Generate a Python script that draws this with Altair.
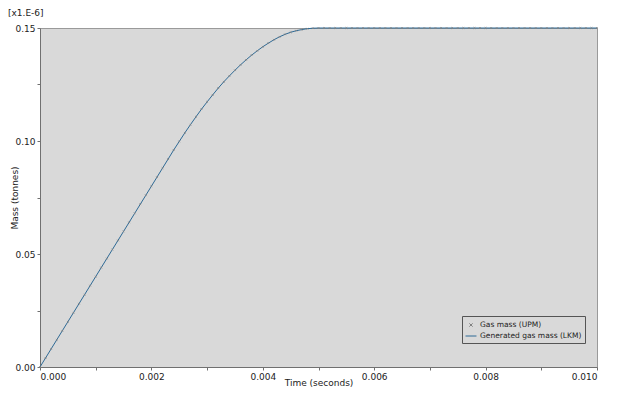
import altair as alt
import pandas as pd

time_s = [round(i * 0.0001, 4) for i in range(101)]
mass = [
    0.000, 0.004, 0.008, 0.012, 0.016, 0.020, 0.024, 0.028, 0.032, 0.036,
    0.040, 0.044, 0.048, 0.052, 0.056, 0.060, 0.064, 0.068, 0.072, 0.076,
    0.080, 0.084, 0.088, 0.092, 0.096, 0.0998, 0.1036, 0.1072, 0.1107, 0.1141,
    0.1173, 0.1204, 0.1234, 0.1262, 0.1288, 0.1313, 0.1337, 0.1359, 0.1380, 0.1399,
    0.1417, 0.1433, 0.1448, 0.1461, 0.1472, 0.1481, 0.1488, 0.1493, 0.1497, 0.1499,
    0.1500, 0.1500, 0.1500, 0.1500, 0.1500, 0.1500, 0.1500, 0.1500, 0.1500, 0.1500,
    0.1500, 0.1500, 0.1500, 0.1500, 0.1500, 0.1500, 0.1500, 0.1500, 0.1500, 0.1500,
    0.1500, 0.1500, 0.1500, 0.1500, 0.1500, 0.1500, 0.1500, 0.1500, 0.1500, 0.1500,
    0.1500, 0.1500, 0.1500, 0.1500, 0.1500, 0.1500, 0.1500, 0.1500, 0.1500, 0.1500,
    0.1500, 0.1500, 0.1500, 0.1500, 0.1500, 0.1500, 0.1500, 0.1500, 0.1500, 0.1500,
    0.1500,
]
series_names = ["Gas mass (UPM)", "Generated gas mass (LKM)"]
x_ticks = [round(i * 0.001, 3) for i in range(11)]
y_ticks = [round(i * 0.025, 3) for i in range(7)]
scale_note = ["[x1.E-6]"]

rows = []
for s in series_names:
    for t, m in zip(time_s, mass):
        rows.append({"t": t, "m": m, "series": s})
df = pd.DataFrame(rows)

FONT = "DejaVu Sans"
xpath = "M-0.3,-0.3L0.3,0.3M-0.3,0.3L0.3,-0.3"

color_scale = alt.Scale(domain=series_names, range=["#808080", "#2e6a96"])
shape_scale = alt.Scale(domain=series_names, range=[xpath, "stroke"])

legend = alt.Legend(
    title=None, orient="none", legendX=422, legendY=288,
    fillColor="#d9d9d9", strokeColor="#555555", padding=3,
    labelFont=FONT, labelFontSize=7.5, labelColor="#222222",
    symbolSize=120, symbolStrokeWidth=1, rowPadding=1, labelOffset=3,
)

x_enc = alt.X(
    "t:Q", title="Time (seconds)",
    scale=alt.Scale(domain=[0, 0.01], nice=False, zero=False),
    axis=alt.Axis(
        values=x_ticks,
        labelExpr="round(datum.value*1000) % 2 == 0 ? format(datum.value, '.3f') : ''",
        tickSize=3, grid=False, titleY=15, titleBaseline="middle",
    ),
)
y_enc = alt.Y(
    "m:Q", title="Mass (tonnes)",
    scale=alt.Scale(domain=[0, 0.15], nice=False),
    axis=alt.Axis(
        values=y_ticks,
        labelExpr="round(datum.value*1000) % 50 == 0 ? format(datum.value, '.2f') : ''",
        tickSize=3, grid=False, titleX=-26, titleBaseline="middle",
    ),
)

base = alt.Chart(df)

line = base.transform_filter(alt.datum.series == series_names[1]).mark_line(
    strokeWidth=1
).encode(
    x=x_enc, y=y_enc,
    color=alt.Color("series:N", scale=color_scale, legend=legend),
    shape=alt.Shape("series:N", scale=shape_scale, legend=legend),
)

points = base.transform_filter(alt.datum.series == series_names[0]).mark_point(
    filled=False, size=30, strokeWidth=0.8, opacity=0.9
).encode(
    x=x_enc, y=y_enc,
    color=alt.Color("series:N", scale=color_scale, legend=legend),
    shape=alt.Shape("series:N", scale=shape_scale, legend=legend),
)

note = alt.Chart(pd.DataFrame({"label": scale_note})).mark_text(
    align="left", baseline="bottom", font=FONT, fontSize=9, color="#222222"
).encode(
    text="label:N", x=alt.value(-32), y=alt.value(-10),
)

chart = alt.layer(line, points, note).properties(
    width=557, height=339,
    autosize=alt.AutoSizeParams(type="none"),
    padding={"left": 32, "top": 20, "right": 30, "bottom": 30},
    background="white",
).configure_view(
    fill="#d9d9d9", stroke="#9a9a9a", strokeWidth=1,
).configure_axis(
    labelFont=FONT, labelFontSize=9, labelColor="#222222",
    titleFont=FONT, titleFontSize=9, titleFontWeight="normal", titleColor="#222222",
    domainColor="#707070", tickColor="#707070", labelPadding=2,
)

chart.save("out.html", embed_options={"renderer": "svg", "actions": False})
